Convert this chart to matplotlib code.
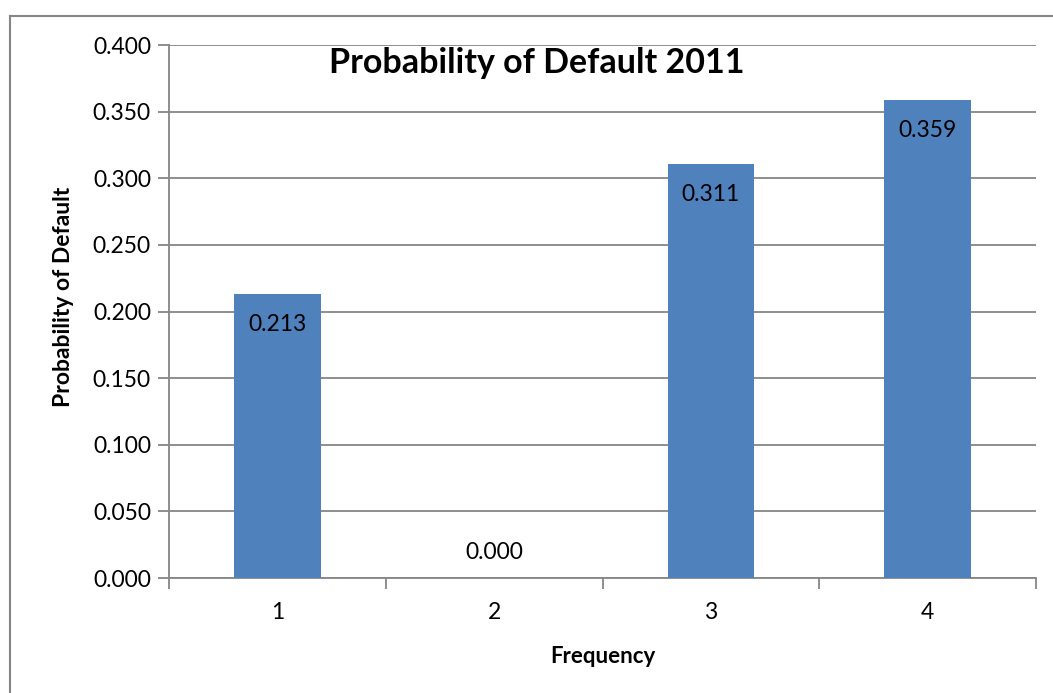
import matplotlib.pyplot as plt
from matplotlib.lines import Line2D
from matplotlib.ticker import FixedLocator, MultipleLocator

plt.rcParams['font.family'] = ['Lato', 'DejaVu Sans']

categories = ['1', '2', '3', '4']
default_prob = [0.213, 0.000, 0.311, 0.359]

bar_color = '#4F81BD'
line_gray = '#868686'

fig = plt.figure(figsize=(10.53, 6.93), dpi=100)
ax = fig.add_axes([0.1605, 0.1659, 0.8234, 0.7691])

x = list(range(len(categories)))
ax.bar(x, default_prob, width=0.4, color=bar_color, zorder=3)

# value labels sit just inside the top of each bar (above it when empty)
for xi, v in zip(x, default_prob):
    if v > 0:
        ax.annotate(f'{v:.3f}', (xi, v), xytext=(0, -22), textcoords='offset points',
                    ha='center', va='center', fontsize=16.5, zorder=4)
    else:
        ax.annotate(f'{v:.3f}', (xi, v), xytext=(0, 18.5), textcoords='offset points',
                    ha='center', va='center', fontsize=16.5, zorder=4)

ax.set_xlim(-0.5, 3.5)
ax.set_ylim(0, 0.4)
ax.yaxis.set_major_locator(MultipleLocator(0.05))
ax.yaxis.set_major_formatter(lambda v, p: f'{v:.3f}')
ax.set_xticks(x)
ax.set_xticklabels(categories)
ax.xaxis.set_minor_locator(FixedLocator([-0.5, 0.5, 1.5, 2.5, 3.5]))
ax.tick_params(axis='x', which='major', length=0, pad=17, labelsize=16.5)
ax.tick_params(axis='x', which='minor', length=8, color=line_gray, width=1.3)
ax.tick_params(axis='y', length=8, color=line_gray, width=1.3, labelsize=16.5, pad=5)

ax.grid(axis='y', color=line_gray, linewidth=1.3, zorder=0)
ax.set_axisbelow(True)
for side in ['top', 'right']:
    ax.spines[side].set_visible(False)
for side in ['left', 'bottom']:
    ax.spines[side].set_color(line_gray)
    ax.spines[side].set_linewidth(1.3)

ax.set_xlabel('Frequency', fontsize=16, fontweight='bold', labelpad=17)
ax.set_ylabel('Probability of Default', fontsize=16.5, fontweight='bold', labelpad=13.5)
ax.yaxis.label.set_y(0.528)
ax.set_title('Probability of Default 2011', fontsize=24.5, fontweight='bold',
             y=0.951, x=0.424, va='center')

# chart frame (extends past the right and bottom edges)
fig.add_artist(Line2D([10 / 1053, 1.0], [1 - 16 / 693, 1 - 16 / 693],
                      color=line_gray, linewidth=1.5, transform=fig.transFigure))
fig.add_artist(Line2D([10 / 1053, 10 / 1053], [0.0, 1 - 16 / 693],
                      color=line_gray, linewidth=1.5, transform=fig.transFigure))

fig.savefig('out.png', dpi=100)
